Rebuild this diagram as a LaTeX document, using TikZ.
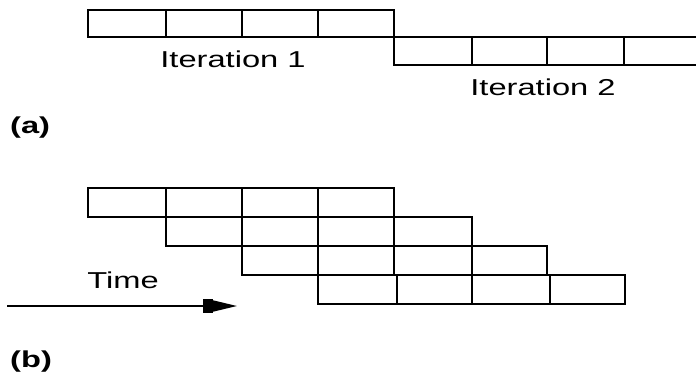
\documentclass[tikz,border=0pt]{standalone}
\usepackage{fontspec}
\setmainfont{Liberation Sans}
\newfontfamily\widefont[FakeStretch=1.42]{Liberation Sans}
\usetikzlibrary{arrows.meta}
\begin{document}
\begin{tikzpicture}[x=1pt,y=-1pt,
  cellline/.style={line width=1.7pt, line join=miter},
  lbl/.style={anchor=base, inner sep=0pt, font=\widefont\fontsize{23}{28}\selectfont},
  plbl/.style={anchor=base west, inner sep=0pt, font=\widefont\bfseries\fontsize{23}{28}\selectfont}]
\useasboundingbox (0,0) rectangle (696,375);
% (a) iteration 1
\draw[cellline] (88,10) rectangle (394,37);
\foreach \x in {166,242,318} \draw[cellline] (\x,10) -- (\x,37);
% (a) iteration 2
\draw[cellline] (698,37) -- (394,37) -- (394,65) -- (698,65);
\foreach \x in {472,547,624} \draw[cellline] (\x,37) -- (\x,65);
\node[lbl] (it1) at (233,67) {Iteration 1};
\node[lbl] (it2) at (543,95) {Iteration 2};
\node[plbl] (la) at (10,133) {(a)};
% (b)
\draw[cellline] (88,188) rectangle (394,217);
\foreach \x in {166,242,318} \draw[cellline] (\x,188) -- (\x,217);
\draw[cellline] (166,217) rectangle (472,246);
\foreach \x in {242,318,394} \draw[cellline] (\x,217) -- (\x,246);
\draw[cellline] (242,246) rectangle (547,275);
\foreach \x in {318,394,472} \draw[cellline] (\x,246) -- (\x,275);
\draw[cellline] (318,275) rectangle (625,304);
\foreach \x in {397,472,550} \draw[cellline] (\x,275) -- (\x,304);
\node[lbl] (time) at (123,288) {Time};
\coordinate (ts) at (7,306);
\coordinate (te) at (237,306);
\draw[line width=1.7pt, -{Rectangle[length=10pt,width=14pt]Triangle[length=24pt,width=11pt]}] (ts) -- (te);
\node[plbl] (lb) at (10,367) {(b)};
\end{tikzpicture}
\end{document}
